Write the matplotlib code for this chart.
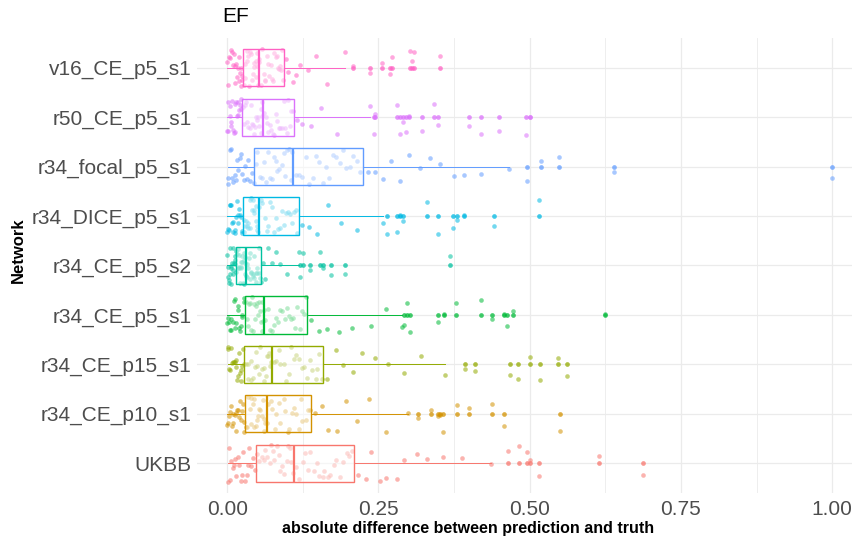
import numpy as np
import matplotlib
matplotlib.use("Agg")
from matplotlib import pyplot as plt

plt.rcParams["font.family"] = ["Liberation Sans", "DejaVu Sans"]

# Networks from bottom to top, with ggplot's default hue colours
networks = ["UKBB", "r34_CE_p10_s1", "r34_CE_p15_s1", "r34_CE_p5_s1", "r34_CE_p5_s2",
            "r34_DICE_p5_s1", "r34_focal_p5_s1", "r50_CE_p5_s1", "v16_CE_p5_s1"]
colors = ["#F8766D", "#D39200", "#93AA00", "#00BA38", "#00C19F",
          "#00B9E3", "#619CFF", "#DB72FB", "#FF61C3"]

# Box statistics
q1 = [0.048, 0.029, 0.028, 0.029, 0.015, 0.026, 0.045, 0.024, 0.026]
median = [0.111, 0.066, 0.074, 0.061, 0.031, 0.052, 0.109, 0.059, 0.053]
q3 = [0.210, 0.139, 0.159, 0.132, 0.056, 0.118, 0.224, 0.110, 0.093]
whisker_hi = [0.436, 0.298, 0.360, 0.289, 0.118, 0.258, 0.466, 0.236, 0.195]

# Absolute differences (estimated from the jittered points)
ukbb = [0.001, 0.003, 0.005, 0.006, 0.009, 0.011, 0.012, 0.015, 0.018, 0.019, 0.022, 0.025,
        0.026, 0.029, 0.032, 0.034, 0.036, 0.040, 0.043, 0.046,
        0.050, 0.052, 0.057, 0.061, 0.063, 0.066, 0.070, 0.072, 0.076, 0.078, 0.082, 0.085,
        0.088, 0.090, 0.094, 0.098, 0.100, 0.104, 0.106, 0.109,
        0.114, 0.118, 0.125, 0.128, 0.134, 0.137, 0.143, 0.148, 0.151, 0.158, 0.160, 0.167,
        0.170, 0.177, 0.180, 0.187, 0.191, 0.198, 0.201, 0.207,
        0.216, 0.229, 0.238, 0.252, 0.263, 0.280, 0.292, 0.313, 0.330, 0.357, 0.388, 0.436,
        0.464, 0.483, 0.495, 0.500, 0.516, 0.615, 0.688]
p10 = [0.000, 0.002, 0.003, 0.004, 0.006, 0.008, 0.009, 0.010, 0.012, 0.014, 0.015, 0.016,
       0.018, 0.020, 0.021, 0.022, 0.024, 0.026, 0.027, 0.028,
       0.031, 0.032, 0.035, 0.037, 0.039, 0.040, 0.043, 0.044, 0.045, 0.047, 0.050, 0.051,
       0.053, 0.054, 0.057, 0.059, 0.060, 0.061, 0.063, 0.065,
       0.068, 0.072, 0.074, 0.079, 0.081, 0.086, 0.088, 0.093, 0.095, 0.100, 0.102, 0.107,
       0.111, 0.113, 0.118, 0.122, 0.124, 0.130, 0.133, 0.137,
       0.145, 0.157, 0.167, 0.182, 0.196, 0.215, 0.235, 0.263, 0.298, 0.316, 0.336, 0.348,
       0.352, 0.356, 0.380, 0.400, 0.437, 0.457, 0.550]
p15 = [0.001, 0.002, 0.003, 0.005, 0.007, 0.008, 0.009, 0.011, 0.013, 0.014, 0.015, 0.016,
       0.018, 0.019, 0.021, 0.022, 0.023, 0.025, 0.026, 0.027,
       0.031, 0.034, 0.035, 0.039, 0.040, 0.043, 0.046, 0.047, 0.050, 0.053, 0.054, 0.057,
       0.060, 0.061, 0.064, 0.065, 0.068, 0.069, 0.071, 0.073,
       0.077, 0.080, 0.086, 0.088, 0.094, 0.097, 0.102, 0.105, 0.111, 0.114, 0.118, 0.124,
       0.127, 0.131, 0.137, 0.140, 0.146, 0.149, 0.152, 0.157,
       0.165, 0.179, 0.191, 0.208, 0.223, 0.244, 0.265, 0.292, 0.321, 0.360, 0.393, 0.410,
       0.467, 0.480, 0.501, 0.517, 0.546, 0.562]
p5_s1 = [0.000, 0.002, 0.003, 0.005, 0.006, 0.007, 0.009, 0.011, 0.012, 0.013, 0.015, 0.017,
         0.018, 0.019, 0.021, 0.023, 0.024, 0.025, 0.027, 0.028,
         0.031, 0.032, 0.034, 0.036, 0.038, 0.039, 0.041, 0.043, 0.044, 0.046, 0.047, 0.049,
         0.051, 0.052, 0.054, 0.055, 0.057, 0.058, 0.059, 0.060,
         0.063, 0.067, 0.070, 0.074, 0.077, 0.081, 0.084, 0.088, 0.091, 0.095, 0.098, 0.102,
         0.105, 0.109, 0.112, 0.116, 0.120, 0.123, 0.127, 0.130,
         0.139, 0.152, 0.165, 0.185, 0.206, 0.237, 0.263, 0.289, 0.292, 0.297, 0.302, 0.349,
         0.359, 0.378, 0.419, 0.437, 0.457, 0.462, 0.472, 0.625]
p5_s2 = [0.000, 0.001, 0.002, 0.003, 0.003, 0.004, 0.005, 0.006, 0.007, 0.007, 0.008, 0.009,
         0.010, 0.010, 0.011, 0.012, 0.013, 0.013, 0.014, 0.015,
         0.016, 0.017, 0.018, 0.019, 0.019, 0.020, 0.021, 0.022, 0.023, 0.023, 0.024, 0.025,
         0.026, 0.027, 0.027, 0.028, 0.029, 0.029, 0.030, 0.031,
         0.032, 0.033, 0.034, 0.036, 0.037, 0.038, 0.039, 0.040, 0.042, 0.043, 0.044, 0.045,
         0.047, 0.048, 0.049, 0.050, 0.052, 0.053, 0.054, 0.055,
         0.059, 0.063, 0.068, 0.074, 0.080, 0.088, 0.098, 0.118, 0.121, 0.126, 0.136, 0.154,
         0.159, 0.172, 0.195, 0.369]
dice = [0.000, 0.001, 0.003, 0.004, 0.005, 0.006, 0.008, 0.009, 0.010, 0.012, 0.013, 0.014,
        0.016, 0.017, 0.018, 0.020, 0.021, 0.022, 0.024, 0.025,
        0.027, 0.028, 0.030, 0.031, 0.033, 0.034, 0.035, 0.037, 0.038, 0.040, 0.041, 0.042,
        0.044, 0.045, 0.047, 0.048, 0.049, 0.050, 0.051, 0.052,
        0.055, 0.058, 0.062, 0.065, 0.068, 0.071, 0.074, 0.077, 0.080, 0.084, 0.087, 0.090,
        0.094, 0.097, 0.100, 0.104, 0.107, 0.110, 0.113, 0.116,
        0.124, 0.135, 0.149, 0.166, 0.188, 0.214, 0.258, 0.264, 0.280, 0.286, 0.291, 0.330,
        0.349, 0.373, 0.380, 0.391, 0.441, 0.516]
focal = [0.001, 0.002, 0.004, 0.006, 0.008, 0.010, 0.012, 0.014, 0.016, 0.018, 0.021, 0.023,
         0.025, 0.027, 0.030, 0.032, 0.035, 0.038, 0.041, 0.044,
         0.047, 0.050, 0.054, 0.057, 0.060, 0.064, 0.067, 0.070, 0.074, 0.077, 0.080, 0.083,
         0.086, 0.090, 0.093, 0.096, 0.099, 0.102, 0.105, 0.107,
         0.113, 0.118, 0.124, 0.130, 0.135, 0.141, 0.146, 0.152, 0.158, 0.163, 0.169, 0.174,
         0.180, 0.186, 0.191, 0.197, 0.203, 0.208, 0.214, 0.220,
         0.232, 0.245, 0.258, 0.270, 0.285, 0.300, 0.318, 0.335, 0.352, 0.375, 0.392, 0.420,
         0.466, 0.495, 0.519, 0.549, 0.640, 1.000]
r50 = [0.000, 0.001, 0.002, 0.004, 0.005, 0.006, 0.007, 0.008, 0.010, 0.011, 0.012, 0.013,
       0.015, 0.016, 0.017, 0.018, 0.020, 0.021, 0.022, 0.023,
       0.026, 0.028, 0.030, 0.031, 0.033, 0.035, 0.037, 0.039, 0.041, 0.042, 0.044, 0.046,
       0.048, 0.050, 0.051, 0.053, 0.055, 0.056, 0.057, 0.058,
       0.061, 0.064, 0.066, 0.068, 0.071, 0.073, 0.076, 0.078, 0.081, 0.083, 0.086, 0.088,
       0.091, 0.093, 0.096, 0.099, 0.101, 0.104, 0.106, 0.108,
       0.115, 0.124, 0.138, 0.155, 0.182, 0.236, 0.242, 0.245, 0.280, 0.285, 0.290, 0.296,
       0.301, 0.322, 0.341, 0.349, 0.399, 0.419, 0.450, 0.493, 0.501]
v16 = [0.000, 0.002, 0.003, 0.005, 0.006, 0.008, 0.009, 0.011, 0.012, 0.013, 0.015, 0.016,
       0.017, 0.019, 0.020, 0.021, 0.022, 0.023, 0.024, 0.025,
       0.027, 0.029, 0.030, 0.032, 0.033, 0.035, 0.036, 0.038, 0.040, 0.041, 0.043, 0.044,
       0.045, 0.047, 0.048, 0.049, 0.050, 0.051, 0.052, 0.053,
       0.055, 0.057, 0.060, 0.062, 0.063, 0.066, 0.068, 0.069, 0.072, 0.074, 0.076, 0.078,
       0.080, 0.082, 0.084, 0.086, 0.088, 0.089, 0.091, 0.092,
       0.097, 0.101, 0.108, 0.114, 0.121, 0.133, 0.147, 0.165, 0.195, 0.208, 0.236, 0.256,
       0.269, 0.272, 0.302, 0.305, 0.308, 0.352]
values = [ukbb, p10, p15, p5_s1, p5_s2, dice, focal, r50, v16]

W, H = 853, 538
fig = plt.figure(figsize=(W / 100, H / 100), dpi=100)
# panel: x from -0.05 to 1.05 (605 px per unit, zero at 227 px), rows 0.4..9.6
ax = fig.add_axes([197 / W, (H - 493) / H, 665.5 / W, 455 / H])
ax.set_xlim(-0.05, 1.05)
ax.set_ylim(0.4, 9.6)

grid_col = "#EBEBEB"
for gx in np.arange(0, 1.01, 0.125):
    ax.axvline(gx, color=grid_col, lw=0.9 if gx * 4 % 1 == 0 else 0.6, zorder=0)
for k in range(len(networks)):
    ax.axhline(k + 1, color=grid_col, lw=0.9, zorder=0)

for k, (vals, col) in enumerate(zip(values, colors)):
    vals = np.array(vals)
    pos = k + 1
    # vertical jitter (positions only), scrambled with a fixed hash
    idx = np.arange(len(vals))
    jit = (np.modf(np.abs(np.sin(idx * 12.9898 + k * 78.233)) * 43758.5453)[0] - 0.5) * 0.74
    ax.scatter(vals, pos + jit, s=11, color=col, alpha=0.55, lw=0, zorder=2)

    fliers = vals[vals > whisker_hi[k]]
    stats = [dict(med=median[k], q1=q1[k], q3=q3[k], whislo=float(vals.min()),
                  whishi=whisker_hi[k], fliers=fliers)]
    ax.bxp(stats, positions=[pos], widths=0.75, orientation="horizontal",
           showcaps=False, patch_artist=True,
           boxprops=dict(facecolor=(1, 1, 1, 0.5), edgecolor=col, lw=1.0),
           medianprops=dict(color=col, lw=1.6),
           whiskerprops=dict(color=col, lw=0.7),
           flierprops=dict(marker="o", markersize=3.4, markerfacecolor=col,
                           markeredgecolor="none", alpha=0.75),
           zorder=3)

for s in ax.spines.values():
    s.set_visible(False)
ax.set_xticks([0, 0.25, 0.5, 0.75, 1.0])
ax.set_xticklabels(["0.00", "0.25", "0.50", "0.75", "1.00"])
ax.set_yticks(range(1, len(networks) + 1))
ax.set_yticklabels(networks)
ax.tick_params(length=0, labelsize=15, labelcolor="#4D4D4D")
ax.tick_params(axis="x", pad=5)
ax.tick_params(axis="y", pad=4)

fig.text(222 / W, 1 - 16 / H, "EF", fontsize=15, va="center", ha="left")
fig.text(18 / W, 1 - 250 / H, "Network", fontsize=12, fontweight="bold",
         rotation=90, va="center", ha="center")
fig.text(468 / W, 2 / H, "absolute difference between prediction and truth",
         fontsize=11.5, fontweight="bold", va="bottom", ha="center")

fig.savefig("out.png", dpi=100)
